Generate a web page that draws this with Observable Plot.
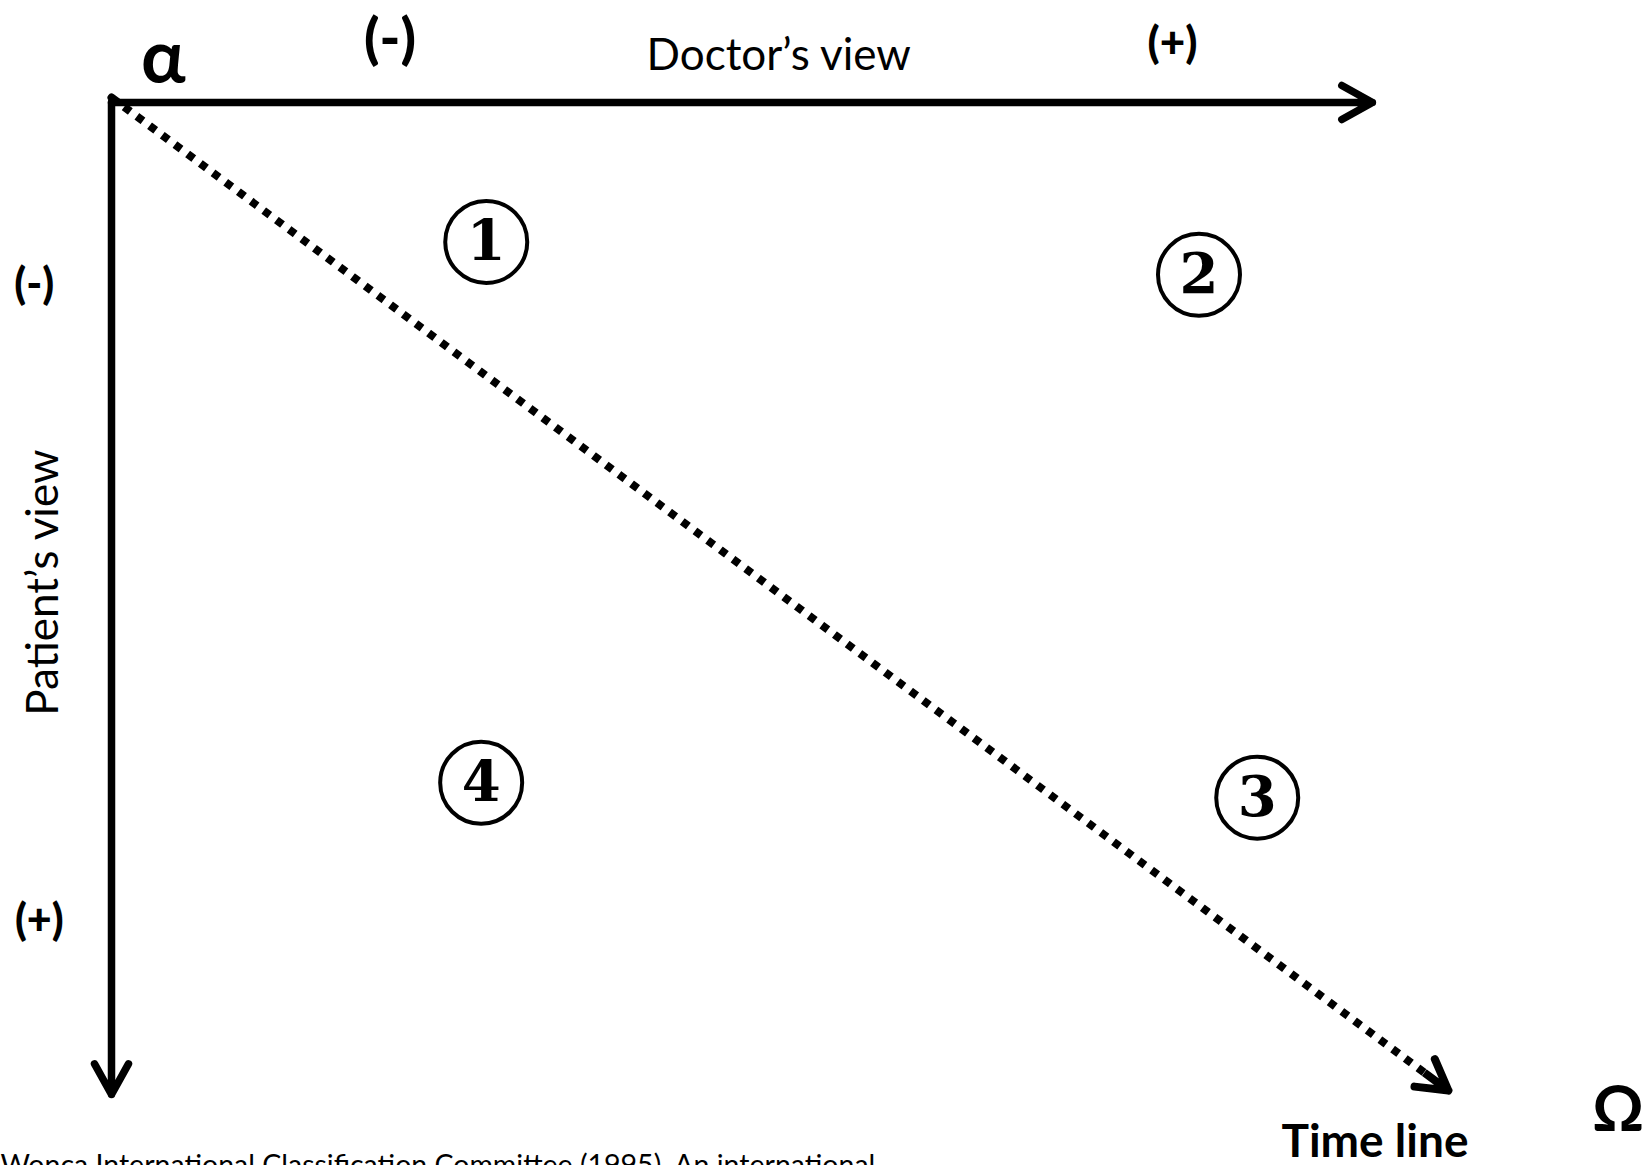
<!DOCTYPE html>
<html>
<head>
<meta charset="utf-8">
<script src="https://cdn.jsdelivr.net/npm/d3@7"></script>
<script src="https://cdn.jsdelivr.net/npm/@observablehq/plot@0.6"></script>
<style>
  html, body { margin: 0; padding: 0; background: #fff; overflow: hidden; }
  #chart svg { display: block; }
</style>
</head>
<body>
<div id="chart"></div>
<script>
// Conceptual coordinate system: x = doctor's view (0 → 10), y = patient's view (0 → 10, downward)
const axisX1 = [0, 0];
const axisY1 = [0, 0];
const axisX2 = [9.96, 0];
const axisY2 = [0, 9.96];

// Time line (diagonal)
const timeX1 = [0.0];
const timeY1 = [-0.05];
const timeX2 = [10.56];
const timeY2 = [9.92];

// Quadrant numbers
const quadrants = ["1", "2", "3", "4"];
const quadrantX = [2.96, 8.59, 9.05, 2.92];
const quadrantY = [1.40, 1.73, 6.98, 6.83];

// Axis titles
const doctorLabel = ["Doctor’s view"];
const patientLabel = ["Patient’s view"];

// Sign labels along the axes
const topSigns = ["(-)", "(+)"];
const topSignX = [2.20, 8.38];
const topSignY = [-0.63, -0.59];
const leftSigns = ["(-)", "(+)"];
const leftSignX = [-0.61, -0.57];
const leftSignY = [1.83, 8.22];

// Start / end symbols
const startSymbol = ["α"];
const endSymbol = ["Ω"];
const timeLabel = ["Time line"];

const caption = ["Wonca International Classification Committee (1995). An international"];

const FONT = "Lato, 'Open Sans', 'DejaVu Sans', sans-serif";

const chart = Plot.plot({
  width: 1652,
  height: 1165,
  marginLeft: 111,
  marginRight: 275,
  marginTop: 102,
  marginBottom: 67,
  x: {domain: [0, 10], axis: null},
  y: {domain: [0, 10], reverse: true, axis: null},
  style: {background: "white", fontFamily: FONT, color: "black"},
  marks: [
    // time line: solid arrow, then white dashes carve the shaft into dots
    Plot.arrow(timeX1, {
      x1: (d, i) => timeX1[i], y1: (d, i) => timeY1[i],
      x2: (d, i) => timeX2[i], y2: (d, i) => timeY2[i],
      stroke: "black", strokeWidth: 8, headLength: 6.4, headAngle: 60,
      strokeLinecap: "round", strokeLinejoin: "miter"
    }),
    Plot.arrow(timeX1, {
      x1: (d, i) => timeX1[i], y1: (d, i) => timeY1[i],
      x2: (d, i) => timeX2[i], y2: (d, i) => timeY2[i],
      stroke: "white", strokeWidth: 12, headLength: 0, insetEnd: 30,
      strokeDasharray: "0,7.6,8.2,0", strokeLinecap: "butt"
    }),
    // axes
    Plot.arrow(axisX1, {
      x1: (d, i) => axisX1[i], y1: (d, i) => axisY1[i],
      x2: (d, i) => axisX2[i], y2: (d, i) => axisY2[i],
      stroke: "black", strokeWidth: 7.5, headLength: 7, headAngle: 58,
      strokeLinecap: "round", strokeLinejoin: "miter"
    }),
    // quadrant circles and numbers
    Plot.dot(quadrants, {
      x: quadrantX, y: quadrantY, r: 41,
      stroke: "black", strokeWidth: 4, fill: "none"
    }),
    Plot.text(quadrants, {
      x: quadrantX, y: quadrantY, text: d => d,
      fontFamily: "'DejaVu Serif', 'Liberation Serif', serif",
      fontWeight: "bold", fontSize: 56, lineAnchor: "middle", textAnchor: "middle",
      fill: "black"
    }),
    // axis titles
    Plot.text(doctorLabel, {
      x: [5.27], y: [-0.47], text: d => d,
      fontSize: 44, lineAnchor: "middle", textAnchor: "middle", fill: "black"
    }),
    Plot.text(patientLabel, {
      x: [-0.53], y: [4.82], text: d => d, rotate: -90,
      fontSize: 44, lineAnchor: "middle", textAnchor: "middle", fill: "black"
    }),
    // sign labels
    Plot.text(topSigns, {
      x: topSignX, y: topSignY, text: d => d,
      fontSize: (d, i) => (i === 0 ? 56 : 44),
      fontWeight: "900", lineAnchor: "middle", textAnchor: "middle", fill: "black"
    }),
    Plot.text(leftSigns, {
      x: leftSignX, y: leftSignY, text: d => d,
      fontSize: 43, fontWeight: "900", lineAnchor: "middle", textAnchor: "middle", fill: "black"
    }),
    // alpha / omega / time line
    Plot.text(startSymbol, {
      x: [0.41], y: [-0.43], text: d => d,
      fontSize: 74, fontWeight: "bold", lineAnchor: "middle", textAnchor: "middle", fill: "black"
    }),
    Plot.text(endSymbol, {
      x: [11.90], y: [10.12], text: d => d,
      fontSize: 64, fontWeight: "bold", lineAnchor: "middle", textAnchor: "middle", fill: "black"
    }),
    Plot.text(timeLabel, {
      x: [9.98], y: [10.44], text: d => d,
      fontSize: 46, fontWeight: "bold", lineAnchor: "middle", textAnchor: "middle", fill: "black"
    }),
    // source caption (cut off at the bottom edge, as in the source figure)
    Plot.text(caption, {
      x: [-0.877], y: [10.56], text: d => d,
      fontSize: 28.5, lineAnchor: "top", textAnchor: "start", fill: "black"
    })
  ]
});

document.getElementById("chart").appendChild(chart);
</script>
</body>
</html>
